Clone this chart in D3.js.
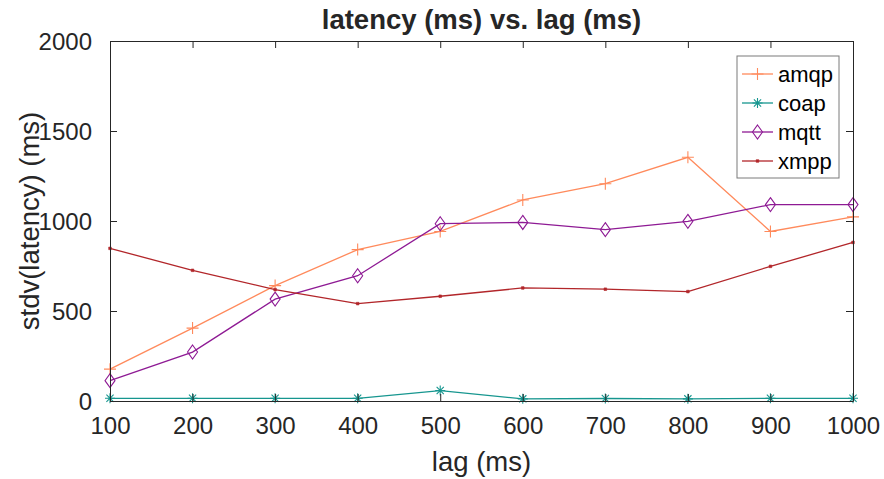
<!DOCTYPE html>
<html>
<head>
<meta charset="utf-8">
<script src="https://cdn.jsdelivr.net/npm/d3@7/dist/d3.min.js"></script>
<style>
  body { margin: 0; background: #fff; }
  svg text { font-family: "Liberation Sans", Arial, sans-serif; fill: #262626; }
</style>
</head>
<body>
<div id="chart"></div>
<script>
'use strict';

// data
const lags = [100, 200, 300, 400, 500, 600, 700, 800, 900, 1000];
const amqp = [177, 405, 641, 841, 942, 1117, 1207, 1354, 942, 1023];
const coap = [15, 15, 15, 15, 58, 12, 14, 12, 15, 15];
const mqtt = [113, 272, 566, 696, 985, 992, 952, 998, 1091, 1091];
const xmpp = [848, 726, 619, 541, 582, 628, 621, 608, 748, 881];
const seriesNames = ['amqp', 'coap', 'mqtt', 'xmpp'];
const yTicks = [0, 500, 1000, 1500, 2000];
const xTicks = [100, 200, 300, 400, 500, 600, 700, 800, 900, 1000];

const width = 884, height = 479;
const margins = { left: 110, right: 31, top: 41, bottom: 78 };
const innerWidth = width - margins.left - margins.right;
const innerHeight = height - margins.top - margins.bottom;

const palette = {
    amqp: '#ff8a5c',
    coap: '#16968f',
    mqtt: '#8e1a94',
    xmpp: '#b2262a',
    axis: '#262626'
};
const markers = { amqp: 'plus', coap: 'star', mqtt: 'diamond', xmpp: 'dot' };
const values = { amqp, coap, mqtt, xmpp };

const svg = d3.select('#chart').append('svg')
    .attr('width', width)
    .attr('height', height);

const scaleX = d3.scaleLinear().domain([100, 1000]).range([0, innerWidth]);
const scaleY = d3.scaleLinear().domain([0, 2000]).range([innerHeight, 0]);

const plot = svg.append('g')
    .attr('transform', `translate(${margins.left}, ${margins.top})`);

function markerPath(kind) {
    if (kind === 'plus') return 'M-6,0H6M0,-6V6';
    if (kind === 'star') return 'M-5,0H5M0,-5V5M-3.6,-3.6L3.6,3.6M-3.6,3.6L3.6,-3.6';
    if (kind === 'diamond') return 'M0,-7L5,0L0,7L-5,0Z';
    return 'M-1.3,-1.3H1.3V1.3H-1.3Z';
}

function drawMarker(g, kind, colour, x, y) {
    g.append('path')
        .attr('transform', `translate(${x}, ${y})`)
        .attr('d', markerPath(kind))
        .attr('fill', kind === 'dot' ? colour : 'none')
        .attr('stroke', colour)
        .attr('stroke-width', kind === 'dot' ? 0.6 : 1.1);
}

// series
let line = d3.line().x(d => scaleX(d[0])).y(d => scaleY(d[1]));
seriesNames.forEach(name => {
    let pts = lags.map((l, i) => [l, values[name][i]]);
    plot.append('path')
        .attr('d', line(pts))
        .attr('fill', 'none')
        .attr('stroke', palette[name])
        .attr('stroke-width', 1.3);
    pts.forEach(p => drawMarker(plot, markers[name], palette[name], scaleX(p[0]), scaleY(p[1])));
});

// axes
function styleAxis(g) {
    g.attr('font-size', 24)
        .attr('font-family', '"Liberation Sans", Arial, sans-serif');
    g.select('.domain').attr('stroke', palette.axis);
    g.selectAll('.tick line').attr('stroke', palette.axis);
    g.selectAll('.tick text').attr('fill', palette.axis);
}

let fmt = d3.format('d');

let axisBottom = plot.append('g')
    .attr('transform', `translate(0, ${innerHeight})`)
    .call(d3.axisBottom(scaleX).tickValues(xTicks).tickFormat(fmt)
        .tickSizeInner(-7).tickSizeOuter(0).tickPadding(16));
styleAxis(axisBottom);

let axisLeft = plot.append('g')
    .call(d3.axisLeft(scaleY).tickValues(yTicks).tickFormat(fmt)
        .tickSizeInner(-7).tickSizeOuter(0).tickPadding(18));
styleAxis(axisLeft);
axisLeft.selectAll('.tick text').attr('dy', '0.36em');

// mirrored box sides, ticks only
let axisTop = plot.append('g')
    .call(d3.axisTop(scaleX).tickValues(xTicks).tickSizeInner(-7).tickSizeOuter(0));
styleAxis(axisTop);
axisTop.selectAll('.tick text').remove();

let axisRight = plot.append('g')
    .attr('transform', `translate(${innerWidth}, 0)`)
    .call(d3.axisRight(scaleY).tickValues(yTicks).tickSizeInner(-7).tickSizeOuter(0));
styleAxis(axisRight);
axisRight.selectAll('.tick text').remove();

// titles
svg.append('text')
    .attr('x', margins.left + innerWidth / 2)
    .attr('y', 29)
    .attr('text-anchor', 'middle')
    .style('font-size', '27.5px')
    .style('font-weight', 'bold')
    .text('latency (ms) vs. lag (ms)');

svg.append('text')
    .attr('x', margins.left + innerWidth / 2)
    .attr('y', 471)
    .attr('text-anchor', 'middle')
    .style('font-size', '27.5px')
    .text('lag (ms)');

svg.append('text')
    .attr('transform', `translate(39, ${margins.top + innerHeight / 2}) rotate(-90)`)
    .attr('text-anchor', 'middle')
    .style('font-size', '27.5px')
    .text('stdv(latency) (ms)');

// legend
const legend = svg.append('g').attr('transform', 'translate(737, 56)');
legend.append('rect')
    .attr('width', 102)
    .attr('height', 122)
    .attr('fill', '#fff')
    .attr('stroke', '#7a7a7a')
    .attr('stroke-width', 1);

seriesNames.forEach((name, i) => {
    let cy = 18 + i * 29;
    legend.append('line')
        .attr('x1', 5).attr('x2', 36)
        .attr('y1', cy).attr('y2', cy)
        .attr('stroke', palette[name])
        .attr('stroke-width', 1.3);
    drawMarker(legend, markers[name], palette[name], 20.5, cy);
    legend.append('text')
        .attr('x', 41)
        .attr('y', cy)
        .attr('dy', '0.36em')
        .style('font-size', '22px')
        .style('fill', '#000')
        .text(name);
});
</script>
</body>
</html>
